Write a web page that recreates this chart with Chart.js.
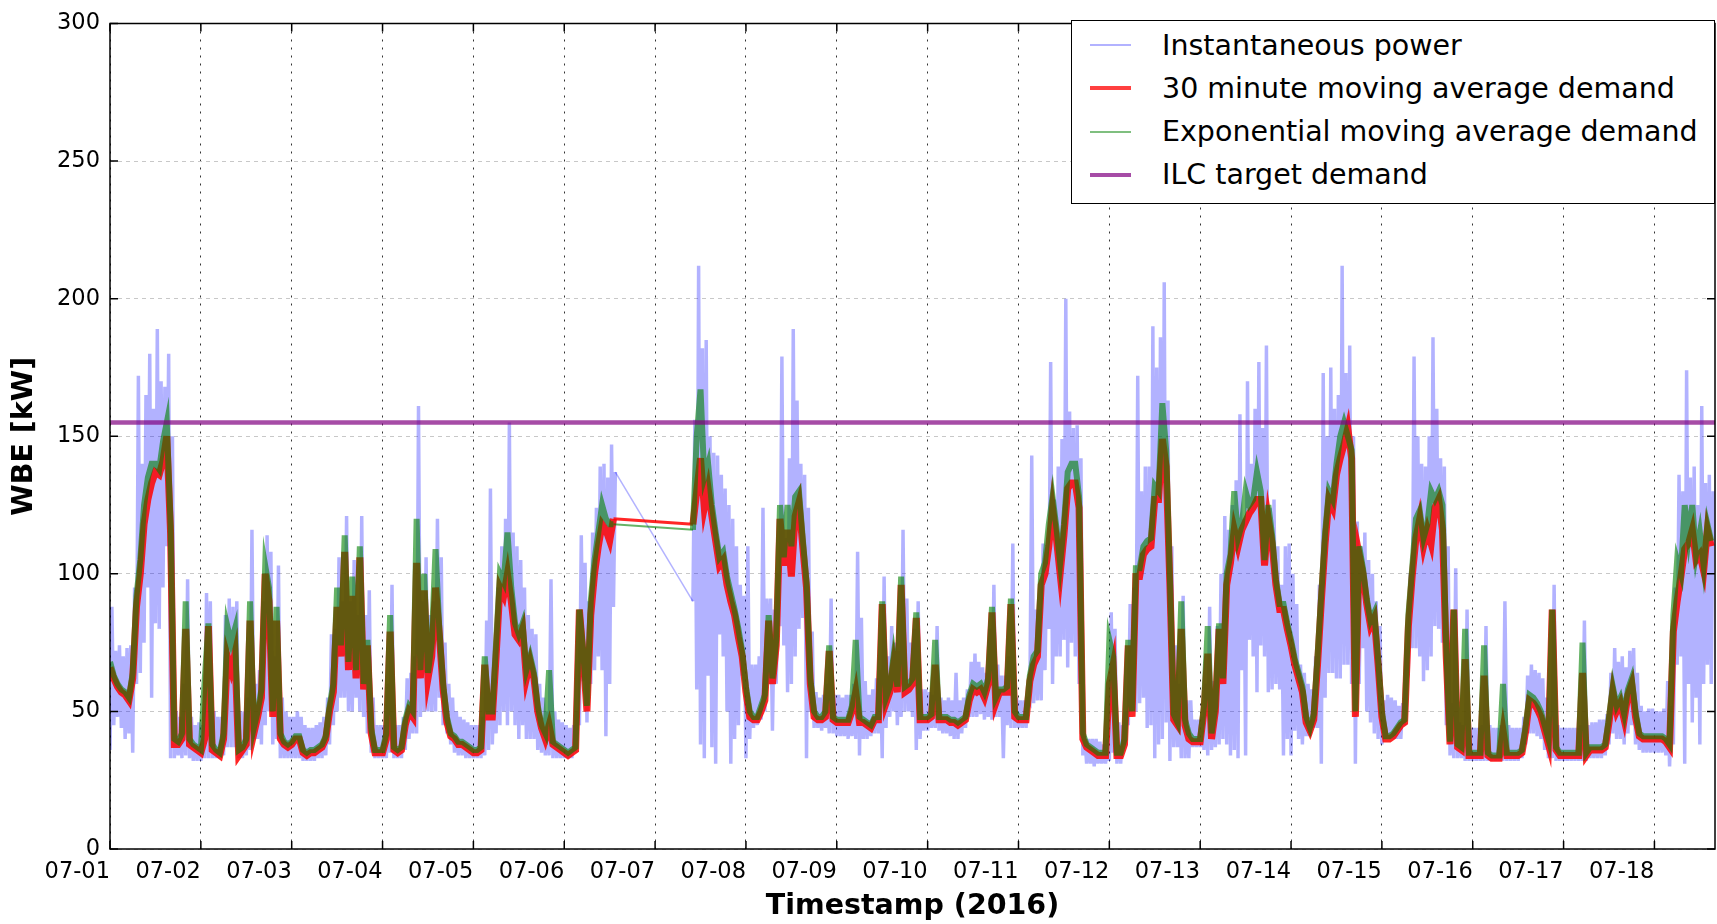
<!DOCTYPE html>
<html>
<head>
<meta charset="utf-8">
<title>WBE demand</title>
<script src="https://cdn.jsdelivr.net/npm/chart.js@4.4.1/dist/chart.umd.min.js"></script>
<style>
    html, body { margin: 0; padding: 0; background: #fff; }
    #wrap { position: relative; width: 1717px; height: 924px; }
    #legend {
        position: absolute; left: 1071px; top: 20px; width: 644px; height: 184px;
        box-sizing: border-box; border: 1.5px solid #000; background: #fff;
        font-family: 'DejaVu Sans', sans-serif; font-size: 28.5px; color: #000;
    }
    .legend-row { position: absolute; left: 0; height: 40px; display: flex; align-items: center; white-space: nowrap; }
    .legend-swatch { display: inline-block; width: 41px; margin-left: 18px; margin-right: 31px; }
</style>
</head>
<body>
<div id="wrap">
    <canvas id="chart" width="1717" height="924"></canvas>
    <div id="legend"></div>
</div>
<script>
/* WBE demand, 2016-07-01 .. 07-18, one value per hour (null = no data) */

const HOURS_PER_DAY = 24;
const dayLabels = ['07-01', '07-02', '07-03', '07-04', '07-05', '07-06', '07-07', '07-08', '07-09',
    '07-10', '07-11', '07-12', '07-13', '07-14', '07-15', '07-16', '07-17', '07-18'];
const hourSpan = 424;
const ilcTarget = 155;

// 30 minute moving average demand (kW)
const avgDemand = [
    66,62,59,57,56,54,62,88,100,118,127,133,137,136,141,150,115,38,38,40,80,38,37,36,
    35,40,81,36,35,34,40,70,65,71,34,36,38,83,42,48,55,100,90,48,83,40,38,37,
    38,40,40,35,34,35,35,36,37,40,50,57,88,70,108,65,92,62,106,58,74,42,35,35,
    35,40,79,36,35,36,45,50,48,104,62,94,62,70,95,78,58,46,41,40,38,38,37,36,
    35,35,36,67,48,48,70,95,92,100,90,78,76,80,62,68,62,50,44,40,45,38,37,36,
    35,34,35,36,87,70,50,85,100,110,118,116,112,120,null,null,null,null,null,null,null,null,null,null,
    null,null,null,null,null,null,null,null,null,null,118,130,142,124,131,121,112,103,105,96,90,85,77,70,
    57,48,47,47,50,54,83,60,74,120,103,116,99,121,126,110,95,60,48,47,47,48,72,47,
    46,46,46,46,50,57,46,46,45,44,47,47,89,53,57,67,57,96,57,58,60,84,47,47,
    47,48,67,47,47,47,46,46,45,46,47,54,58,57,58,55,60,86,53,57,57,57,89,48,
    47,47,47,61,67,70,96,100,110,124,113,100,114,131,133,133,124,40,37,36,35,34,34,34,
    60,67,34,34,38,74,48,99,99,107,109,110,127,127,149,139,96,47,45,80,45,40,39,39,
    39,50,71,40,50,80,60,96,104,116,110,116,119,122,124,127,127,103,120,111,96,87,87,80,
    74,67,62,57,46,43,47,67,90,111,127,124,136,142,147,153,142,48,107,100,89,81,84,67,
    48,40,40,41,43,45,46,81,99,113,120,110,116,111,124,127,116,70,38,87,37,36,69,34,
    34,34,34,63,34,33,33,33,43,34,34,34,34,35,43,54,53,51,48,43,38,87,36,34,
    34,34,34,34,34,64,34,36,36,36,36,37,46,57,50,53,47,56,60,48,41,40,40,40,
    40,40,40,39,37,79,90,99,109,111,116,105,107,101,116,110
];

// Exponential moving average demand (kW)
const emaDemand = [
    68,63,60,58,57,55,64,92,105,125,135,140,140,138,148,155,118,40,39,42,90,40,38,37,
    36,61,82,38,36,35,42,81,75,80,36,37,40,90,44,50,58,103,95,50,88,42,39,38,
    39,41,41,36,35,36,36,37,38,41,52,60,95,74,114,68,99,65,110,60,76,44,36,36,
    36,42,85,37,36,37,47,52,50,120,65,100,64,75,109,80,60,48,42,41,39,39,38,37,
    36,36,37,70,50,50,75,100,97,115,95,82,78,82,65,70,64,52,45,42,65,39,38,37,
    36,35,36,37,87,72,52,90,105,115,125,120,118,118,null,null,null,null,null,null,null,null,null,null,
    null,null,null,null,null,null,null,null,null,null,116,150,167,135,140,125,115,106,108,99,93,87,80,72,
    59,50,48,48,52,56,85,62,76,125,106,125,110,128,130,113,97,62,50,48,48,50,74,48,
    47,47,47,47,52,76,48,47,46,45,48,48,90,55,59,70,59,99,59,60,62,86,48,48,
    48,49,76,48,48,48,47,47,46,47,48,56,60,59,60,57,62,88,55,58,58,59,91,50,
    48,48,48,63,70,72,100,104,118,128,117,104,118,137,140,140,128,42,38,37,36,35,35,35,
    76,70,35,35,40,76,50,102,102,110,112,113,132,130,162,145,98,49,46,90,47,42,40,40,
    40,52,81,42,52,82,62,100,107,130,113,118,130,125,127,137,130,105,125,114,98,89,89,82,
    76,69,64,59,48,44,49,70,93,115,130,127,140,150,155,150,145,50,110,102,91,83,86,69,
    50,41,41,42,44,46,47,85,102,120,123,113,118,130,127,130,125,73,39,87,38,37,80,35,
    35,35,35,74,35,34,34,34,60,35,35,35,35,36,45,56,55,53,50,45,40,87,37,35,
    35,35,35,35,35,75,35,37,37,37,37,38,48,59,52,55,49,58,62,50,42,41,41,41,
    41,41,41,40,38,85,105,100,125,113,125,107,115,103,118,112
];

// Instantaneous power, hourly high and low (kW)
const powerHigh = [
    88,72,74,70,73,74,95,172,140,165,180,160,189,170,168,180,150,50,48,60,98,48,45,46,
    45,93,90,50,48,48,85,91,88,90,50,50,55,116,60,65,90,114,108,70,103,55,50,48,
    48,50,48,45,44,44,45,46,48,55,78,80,106,90,121,90,105,85,121,85,94,55,45,45,
    45,60,96,45,45,48,62,64,70,161,90,106,85,90,120,106,75,60,55,50,48,47,46,45,
    45,45,48,83,131,62,95,110,120,155,115,110,105,95,85,80,78,60,55,50,98,50,47,46,
    45,44,45,50,114,104,90,115,124,139,140,135,147,137,null,null,null,null,null,null,null,null,null,null,
    null,null,null,null,null,null,null,null,null,null,156,212,182,185,150,144,143,136,131,125,120,110,96,92,
    110,67,67,70,124,91,91,87,100,179,113,142,189,163,140,136,124,79,57,55,56,60,91,56,
    56,55,56,56,60,108,84,61,56,58,62,65,99,70,81,75,72,116,91,75,80,90,58,58,
    57,56,81,55,54,55,54,64,54,55,58,68,71,68,66,64,80,96,67,63,63,70,111,55,
    54,54,54,143,87,87,111,105,177,127,139,149,200,159,153,154,142,41,40,40,40,39,38,40,
    86,80,46,45,50,89,95,172,130,139,139,190,175,186,206,163,110,74,60,92,54,54,47,47,
    48,60,88,61,81,100,121,116,125,134,158,120,170,140,160,177,153,183,124,127,110,96,110,111,
    100,89,67,64,60,58,70,96,173,150,175,160,165,212,173,183,150,119,110,115,105,100,90,81,
    54,56,55,54,52,53,70,100,179,150,140,139,150,186,160,142,139,110,53,102,46,45,87,44,
    44,44,45,81,45,44,44,45,90,45,44,44,44,48,63,67,65,64,62,55,48,96,45,44,
    44,44,44,44,45,83,45,46,46,47,47,49,64,73,68,70,66,72,73,64,52,50,51,51,
    50,50,51,61,52,95,136,130,174,135,139,125,161,133,136,130
];

const powerLow = [
    36,45,48,44,40,42,35,60,64,75,95,55,82,80,95,110,33,33,34,33,34,33,32,32,
    32,33,33,33,33,33,34,37,37,37,33,33,34,36,40,40,38,45,50,38,40,33,33,33,
    33,33,33,32,32,32,32,33,33,34,38,45,50,55,55,50,50,55,50,48,42,35,33,33,
    33,33,35,33,33,33,36,40,42,42,48,50,50,50,50,55,45,42,38,35,34,34,33,33,
    33,33,33,34,36,38,42,45,50,45,50,45,40,45,40,40,40,36,35,34,34,33,33,33,
    33,33,33,35,45,61,46,60,65,70,65,41,60,88,null,null,null,null,null,null,null,null,null,null,
    null,null,null,null,null,null,null,null,null,null,90,58,38,33,63,37,31,78,70,50,31,40,45,63,
    33,40,44,45,47,50,60,43,60,81,74,57,60,70,80,84,33,50,44,44,43,44,42,42,
    41,41,41,40,41,40,34,40,40,41,42,42,33,44,48,50,45,48,50,50,48,36,40,43,
    43,44,44,43,42,42,41,40,40,42,44,48,48,48,49,47,48,47,48,48,33,45,44,44,
    44,44,44,53,53,54,54,65,80,60,70,70,76,66,75,70,60,34,31,31,30,31,31,31,
    32,35,31,31,38,45,50,50,53,55,44,45,33,38,40,46,32,37,37,33,33,33,37,37,
    37,36,34,36,37,38,40,38,34,36,33,65,34,76,70,57,74,70,57,58,60,58,34,40,
    34,43,40,38,41,41,44,44,31,55,64,64,62,62,67,67,60,31,60,73,50,46,42,40,
    38,40,40,40,40,40,45,67,73,73,70,61,65,70,81,80,75,45,34,33,33,33,32,32,
    32,32,32,32,32,32,32,32,32,32,32,32,32,33,38,42,42,41,40,36,33,33,32,32,
    32,32,32,32,32,32,32,33,33,33,33,34,38,42,40,40,38,42,45,38,36,35,35,35,
    35,35,35,34,30,38,67,70,31,60,46,55,38,60,67,60
];

function buildPoints(values) {
    const pts = [];
    values.forEach((v, i) => { if (v !== null) pts.push({ x: i, y: v }); });
    return pts;
}

// low at the hour, high half an hour later -> dense band like the raw signal
function buildBand(lows, highs) {
    const pts = [];
    lows.forEach((lo, i) => {
        if (lo === null) return;
        pts.push({ x: i, y: lo });
        pts.push({ x: i + 0.5, y: highs[i] });
    });
    return pts;
}

// thinner stroke where the line bridges the missing data
function gapWidth(normal, thin) {
    return ctx => (ctx.p1.parsed.x - ctx.p0.parsed.x > 2 ? thin : normal);
}

const htmlLegend = {
    id: 'htmlLegend',
    afterUpdate(chart) {
        const box = document.getElementById('legend');
        box.innerHTML = '';
        chart.data.datasets.forEach((ds, i) => {
            const row = document.createElement('div');
            row.className = 'legend-row';
            row.style.top = (4 + i * 43.3) + 'px';
            const swatch = document.createElement('span');
            swatch.className = 'legend-swatch';
            swatch.style.background = ds.legendColor;
            swatch.style.height = ds.legendWidth + 'px';
            const text = document.createElement('span');
            text.textContent = ds.label;
            row.append(swatch, text);
            box.appendChild(row);
        });
    }
};

// black frame with inward tick marks on all four sides
const frame = {
    id: 'frame',
    afterDraw(chart) {
        const { ctx, chartArea: a, scales: { x, y } } = chart;
        ctx.save();
        ctx.strokeStyle = '#000';
        ctx.lineWidth = 1.5;
        ctx.beginPath();
        x.ticks.forEach(t => {
            const px = x.getPixelForValue(t.value);
            ctx.moveTo(px, a.bottom); ctx.lineTo(px, a.bottom - 8);
            ctx.moveTo(px, a.top); ctx.lineTo(px, a.top + 8);
        });
        y.ticks.forEach(t => {
            const py = y.getPixelForValue(t.value);
            ctx.moveTo(a.left, py); ctx.lineTo(a.left + 8, py);
            ctx.moveTo(a.right, py); ctx.lineTo(a.right - 8, py);
        });
        ctx.stroke();
        ctx.strokeRect(a.left, a.top, a.right - a.left, a.bottom - a.top);
        ctx.restore();
    }
};

Chart.defaults.font.family = "'DejaVu Sans', sans-serif";
Chart.defaults.color = '#000';

const ctx = document.getElementById('chart').getContext('2d');
new Chart(ctx, {
    type: 'line',
    data: {
        datasets: [{
            label: 'Instantaneous power',
            data: buildBand(powerLow, powerHigh),
            borderColor: 'rgba(0, 0, 255, 0.3)',
            borderWidth: 3.5,
            segment: { borderWidth: gapWidth(3.5, 1.5) },
            legendColor: 'rgba(0, 0, 255, 0.3)',
            legendWidth: 2,
            order: 3
        }, {
            label: '30 minute moving average demand',
            data: buildPoints(avgDemand),
            borderColor: 'rgba(255, 0, 0, 0.85)',
            borderWidth: 7,
            segment: { borderWidth: gapWidth(7, 3) },
            legendColor: 'rgba(255, 0, 0, 0.75)',
            legendWidth: 4,
            order: 2
        }, {
            label: 'Exponential moving average demand',
            data: buildPoints(emaDemand),
            borderColor: 'rgba(0, 128, 0, 0.6)',
            borderWidth: 6,
            segment: { borderWidth: gapWidth(6, 2) },
            legendColor: 'rgba(0, 128, 0, 0.5)',
            legendWidth: 2,
            order: 1
        }, {
            label: 'ILC target demand',
            data: [{ x: 0, y: ilcTarget }, { x: hourSpan, y: ilcTarget }],
            borderColor: 'rgba(128, 0, 128, 0.7)',
            borderWidth: 4.5,
            legendColor: 'rgba(128, 0, 128, 0.7)',
            legendWidth: 4.5,
            order: 0
        }]
    },
    options: {
        responsive: false,
        animation: false,
        devicePixelRatio: 1,
        layout: { padding: { top: 20, right: 2, left: 0, bottom: 0 } },
        elements: { point: { radius: 0 }, line: { tension: 0 } },
        plugins: { legend: { display: false }, tooltip: { enabled: false } },
        scales: {
            x: {
                type: 'linear',
                min: 0,
                max: hourSpan,
                afterBuildTicks: scale => {
                    scale.ticks = dayLabels.map((_, i) => ({ value: i * HOURS_PER_DAY }));
                },
                afterFit: scale => { scale.height = 75; },
                ticks: {
                    align: 'end',
                    maxRotation: 0,
                    autoSkip: false,
                    padding: 10,
                    font: { size: 22.5 },
                    callback: value => dayLabels[value / HOURS_PER_DAY]
                },
                grid: { color: '#333', lineWidth: 1, drawTicks: false },
                border: { display: false, dash: [2, 6] },
                title: {
                    display: true,
                    text: 'Timestamp (2016)',
                    font: { size: 28.5, weight: 'bold' },
                    padding: { top: 0, bottom: 0 }
                }
            },
            y: {
                min: 0,
                max: 300,
                afterFit: scale => { scale.width = 110; },
                ticks: { stepSize: 50, padding: 10, font: { size: 22.5 } },
                grid: { color: '#c8c8c8', lineWidth: 1, drawTicks: false },
                border: { display: false, dash: [4, 4] },
                title: {
                    display: true,
                    text: 'WBE [kW]',
                    font: { size: 28.5, weight: 'bold' },
                    padding: { top: 7, bottom: 0 }
                }
            }
        }
    },
    plugins: [htmlLegend, frame]
});
</script>
</body>
</html>
